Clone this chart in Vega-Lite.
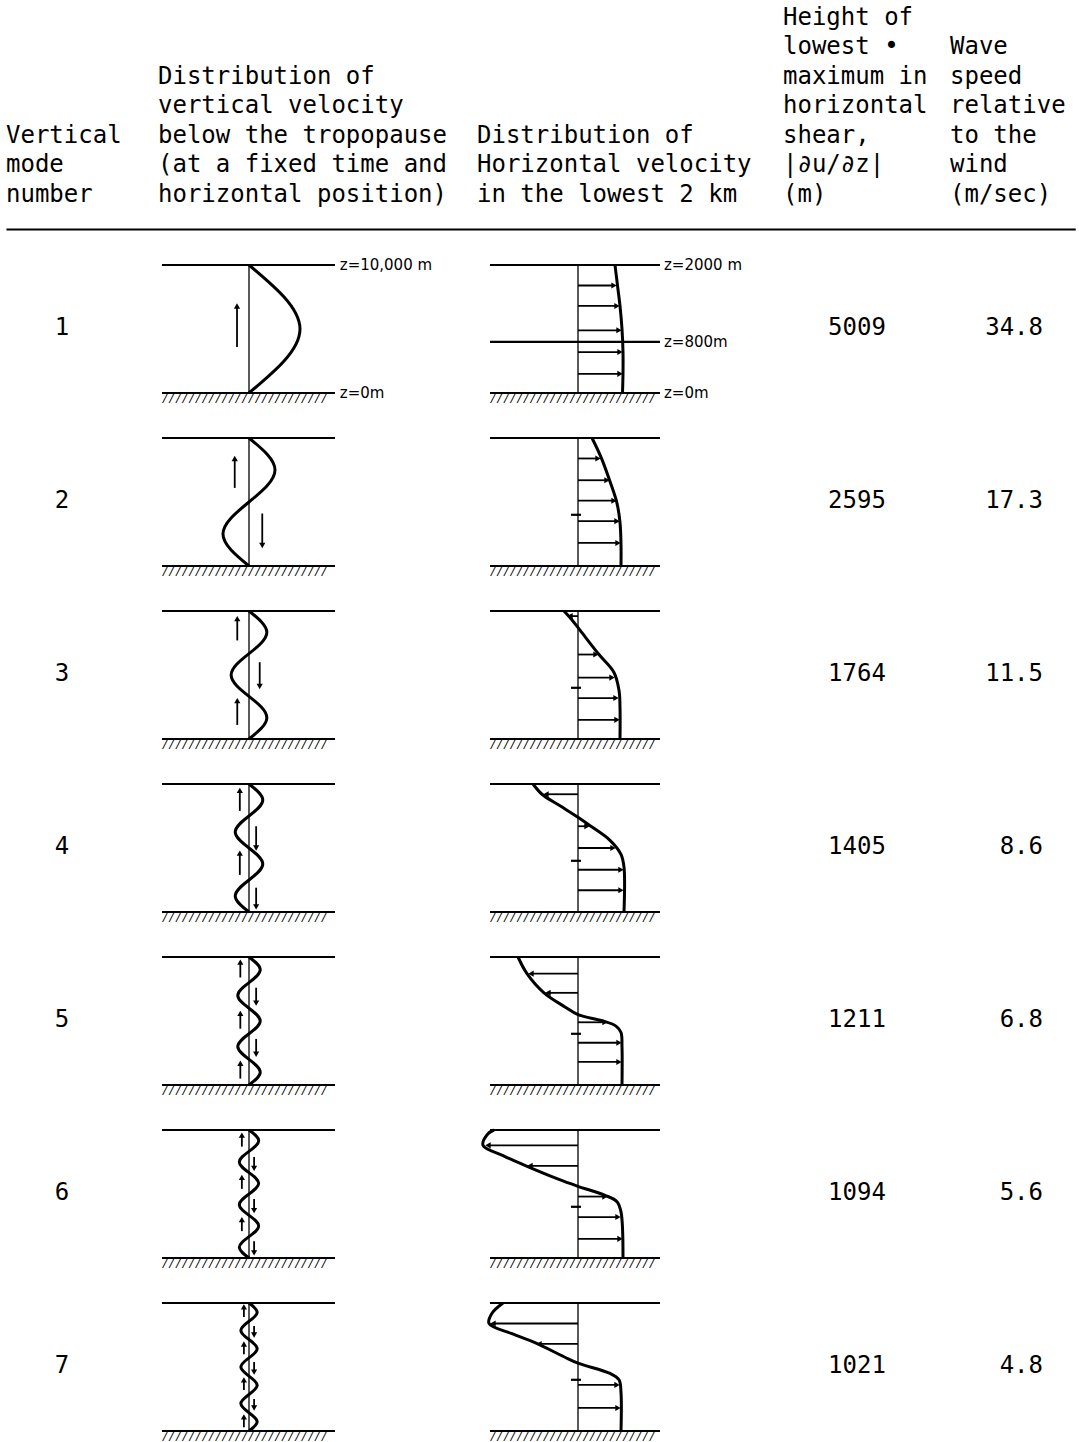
{
  "$schema": "https://vega.github.io/schema/vega-lite/v6.json",
  "padding": 0,
  "background": "white",
  "bounds": "flush",
  "spacing": 0,
  "config": {
    "view": {"stroke": null},
    "text": {"font": "DejaVu Sans Mono", "fontSize": 24, "color": "black"},
    "rule": {"color": "black"},
    "line": {"color": "black"},
    "facet": {"spacing": 0},
    "concat": {"spacing": 0}
  },
  "datasets": {
    "header": [
      {"kind": "text", "col": 1, "r": 2, "text": "Vertical"},
      {"kind": "text", "col": 1, "r": 1, "text": "mode"},
      {"kind": "text", "col": 1, "r": 0, "text": "number"},
      {"kind": "text", "col": 2, "r": 4, "text": "Distribution of"},
      {"kind": "text", "col": 2, "r": 3, "text": "vertical velocity"},
      {"kind": "text", "col": 2, "r": 2, "text": "below the tropopause"},
      {"kind": "text", "col": 2, "r": 1, "text": "(at a fixed time and"},
      {"kind": "text", "col": 2, "r": 0, "text": "horizontal position)"},
      {"kind": "text", "col": 3, "r": 2, "text": "Distribution of"},
      {"kind": "text", "col": 3, "r": 1, "text": "Horizontal velocity"},
      {"kind": "text", "col": 3, "r": 0, "text": "in the lowest 2 km"},
      {"kind": "text", "col": 4, "r": 6, "text": "Height of"},
      {"kind": "text", "col": 4, "r": 5, "text": "lowest •"},
      {"kind": "text", "col": 4, "r": 4, "text": "maximum in"},
      {"kind": "text", "col": 4, "r": 3, "text": "horizontal"},
      {"kind": "text", "col": 4, "r": 2, "text": "shear,"},
      {"kind": "text", "col": 4, "r": 1, "text": "|∂u/∂z|"},
      {"kind": "text", "col": 4, "r": 0, "text": "(m)"},
      {"kind": "text", "col": 5, "r": 5, "text": "Wave"},
      {"kind": "text", "col": 5, "r": 4, "text": "speed"},
      {"kind": "text", "col": 5, "r": 3, "text": "relative"},
      {"kind": "text", "col": 5, "r": 2, "text": "to the"},
      {"kind": "text", "col": 5, "r": 1, "text": "wind"},
      {"kind": "text", "col": 5, "r": 0, "text": "(m/sec)"},
      {"kind": "rule", "x1": 0.006, "x2": 0.997, "r": -1.17}
    ],
    "body": [
      {"kind": "line", "diag": "v", "mode": 1, "x1": -1.706, "x2": 1.686, "h": 1, "h2": 1},
      {"kind": "line", "diag": "v", "mode": 1, "x1": -1.706, "x2": 1.686, "h": 0, "h2": 0},
      {"kind": "axis", "diag": "v", "mode": 1, "x1": 0, "x2": 0, "h": 0, "h2": 1},
      {"kind": "line", "diag": "h", "mode": 1, "x1": -88, "x2": 82, "h": 1, "h2": 1},
      {"kind": "line", "diag": "h", "mode": 1, "x1": -88, "x2": 82, "h": 0, "h2": 0},
      {"kind": "line", "diag": "h", "mode": 1, "x1": -88, "x2": 82, "h": 0.4, "h2": 0.4},
      {"kind": "axis", "diag": "h", "mode": 1, "x1": 0, "x2": 0, "h": 0, "h2": 1},
      {"kind": "hatch", "diag": "v", "mode": 1, "x1": -1.706, "h": 0, "text": "/////////////////////////"},
      {"kind": "hatch", "diag": "h", "mode": 1, "x1": -88, "h": 0, "text": "/////////////////////////"},
      {"kind": "zlabel", "diag": "v", "mode": 1, "x1": 1.78, "h": 1, "text": "z=10,000 m"},
      {"kind": "zlabel", "diag": "v", "mode": 1, "x1": 1.78, "h": 0, "text": "z=0m"},
      {"kind": "zlabel", "diag": "h", "mode": 1, "x1": 86, "h": 1, "text": "z=2000 m"},
      {"kind": "zlabel", "diag": "h", "mode": 1, "x1": 86, "h": 0.4, "text": "z=800m"},
      {"kind": "zlabel", "diag": "h", "mode": 1, "x1": 86, "h": 0, "text": "z=0m"},
      {"kind": "vcurve", "mode": 1, "h": 0, "x1": 0},
      {"kind": "vcurve", "mode": 1, "h": 0.5, "x1": 1},
      {"kind": "vcurve", "mode": 1, "h": 1, "x1": 0},
      {"kind": "varrow", "mode": 1, "x1": -0.235, "h": 0.36, "h2": 0.68, "dir": "up"},
      {"kind": "hcurve", "mode": 1, "h": 1, "x1": 37},
      {"kind": "hcurve", "mode": 1, "h": 0.84, "x1": 39.5},
      {"kind": "hcurve", "mode": 1, "h": 0.68, "x1": 42},
      {"kind": "hcurve", "mode": 1, "h": 0.5, "x1": 44},
      {"kind": "hcurve", "mode": 1, "h": 0.32, "x1": 45},
      {"kind": "hcurve", "mode": 1, "h": 0.15, "x1": 45},
      {"kind": "hcurve", "mode": 1, "h": 0, "x1": 44.5},
      {"kind": "harrow", "mode": 1, "h": 0.84, "x1": 0, "x2": 36, "dir": "right"},
      {"kind": "harrow", "mode": 1, "h": 0.68, "x1": 0, "x2": 39, "dir": "right"},
      {"kind": "harrow", "mode": 1, "h": 0.49, "x1": 0, "x2": 41, "dir": "right"},
      {"kind": "harrow", "mode": 1, "h": 0.32, "x1": 0, "x2": 42, "dir": "right"},
      {"kind": "harrow", "mode": 1, "h": 0.15, "x1": 0, "x2": 42, "dir": "right"},
      {"kind": "num", "mode": 1, "col": 1, "h": 0.51, "text": "1"},
      {"kind": "num", "mode": 1, "col": 4, "h": 0.51, "text": "5009"},
      {"kind": "speed", "mode": 1, "col": 5, "h": 0.51, "text": "34.8"},

      {"kind": "line", "diag": "v", "mode": 2, "x1": -1.706, "x2": 1.686, "h": 1, "h2": 1},
      {"kind": "line", "diag": "v", "mode": 2, "x1": -1.706, "x2": 1.686, "h": 0, "h2": 0},
      {"kind": "axis", "diag": "v", "mode": 2, "x1": 0, "x2": 0, "h": 0, "h2": 1},
      {"kind": "line", "diag": "h", "mode": 2, "x1": -88, "x2": 82, "h": 1, "h2": 1},
      {"kind": "line", "diag": "h", "mode": 2, "x1": -88, "x2": 82, "h": 0, "h2": 0},
      {"kind": "line", "diag": "h", "mode": 2, "x1": -7, "x2": 3, "h": 0.4, "h2": 0.4},
      {"kind": "axis", "diag": "h", "mode": 2, "x1": 0, "x2": 0, "h": 0, "h2": 1},
      {"kind": "hatch", "diag": "v", "mode": 2, "x1": -1.706, "h": 0, "text": "/////////////////////////"},
      {"kind": "hatch", "diag": "h", "mode": 2, "x1": -88, "h": 0, "text": "/////////////////////////"},
      {"kind": "vcurve", "mode": 2, "h": 0, "x1": 0},
      {"kind": "vcurve", "mode": 2, "h": 0.25, "x1": -0.51},
      {"kind": "vcurve", "mode": 2, "h": 0.5, "x1": 0},
      {"kind": "vcurve", "mode": 2, "h": 0.75, "x1": 0.51},
      {"kind": "vcurve", "mode": 2, "h": 1, "x1": 0},
      {"kind": "varrow", "mode": 2, "x1": -0.28, "h": 0.61, "h2": 0.84, "dir": "up"},
      {"kind": "varrow", "mode": 2, "x1": 0.26, "h": 0.41, "h2": 0.16, "dir": "down"},
      {"kind": "hcurve", "mode": 2, "h": 1, "x1": 14},
      {"kind": "hcurve", "mode": 2, "h": 0.85, "x1": 23},
      {"kind": "hcurve", "mode": 2, "h": 0.66, "x1": 32},
      {"kind": "hcurve", "mode": 2, "h": 0.49, "x1": 39},
      {"kind": "hcurve", "mode": 2, "h": 0.34, "x1": 42},
      {"kind": "hcurve", "mode": 2, "h": 0.17, "x1": 43},
      {"kind": "hcurve", "mode": 2, "h": 0, "x1": 43},
      {"kind": "harrow", "mode": 2, "h": 0.84, "x1": 0, "x2": 20, "dir": "right"},
      {"kind": "harrow", "mode": 2, "h": 0.67, "x1": 0, "x2": 29, "dir": "right"},
      {"kind": "harrow", "mode": 2, "h": 0.51, "x1": 0, "x2": 36, "dir": "right"},
      {"kind": "harrow", "mode": 2, "h": 0.35, "x1": 0, "x2": 39, "dir": "right"},
      {"kind": "harrow", "mode": 2, "h": 0.18, "x1": 0, "x2": 40, "dir": "right"},
      {"kind": "num", "mode": 2, "col": 1, "h": 0.51, "text": "2"},
      {"kind": "num", "mode": 2, "col": 4, "h": 0.51, "text": "2595"},
      {"kind": "speed", "mode": 2, "col": 5, "h": 0.51, "text": "17.3"},

      {"kind": "line", "diag": "v", "mode": 3, "x1": -1.706, "x2": 1.686, "h": 1, "h2": 1},
      {"kind": "line", "diag": "v", "mode": 3, "x1": -1.706, "x2": 1.686, "h": 0, "h2": 0},
      {"kind": "axis", "diag": "v", "mode": 3, "x1": 0, "x2": 0, "h": 0, "h2": 1},
      {"kind": "line", "diag": "h", "mode": 3, "x1": -88, "x2": 82, "h": 1, "h2": 1},
      {"kind": "line", "diag": "h", "mode": 3, "x1": -88, "x2": 82, "h": 0, "h2": 0},
      {"kind": "line", "diag": "h", "mode": 3, "x1": -7, "x2": 3, "h": 0.4, "h2": 0.4},
      {"kind": "axis", "diag": "h", "mode": 3, "x1": 0, "x2": 0, "h": 0, "h2": 1},
      {"kind": "hatch", "diag": "v", "mode": 3, "x1": -1.706, "h": 0, "text": "/////////////////////////"},
      {"kind": "hatch", "diag": "h", "mode": 3, "x1": -88, "h": 0, "text": "/////////////////////////"},
      {"kind": "vcurve", "mode": 3, "h": 0, "x1": 0},
      {"kind": "vcurve", "mode": 3, "h": 0.1667, "x1": 0.35},
      {"kind": "vcurve", "mode": 3, "h": 0.3333, "x1": 0},
      {"kind": "vcurve", "mode": 3, "h": 0.5, "x1": -0.35},
      {"kind": "vcurve", "mode": 3, "h": 0.6667, "x1": 0},
      {"kind": "vcurve", "mode": 3, "h": 0.8333, "x1": 0.35},
      {"kind": "vcurve", "mode": 3, "h": 1, "x1": 0},
      {"kind": "varrow", "mode": 3, "x1": -0.23, "h": 0.77, "h2": 0.94, "dir": "up"},
      {"kind": "varrow", "mode": 3, "x1": -0.23, "h": 0.11, "h2": 0.3, "dir": "up"},
      {"kind": "varrow", "mode": 3, "x1": 0.21, "h": 0.6, "h2": 0.41, "dir": "down"},
      {"kind": "hcurve", "mode": 3, "h": 1, "x1": -14},
      {"kind": "hcurve", "mode": 3, "h": 0.93, "x1": -6},
      {"kind": "hcurve", "mode": 3, "h": 0.85, "x1": 2},
      {"kind": "hcurve", "mode": 3, "h": 0.66, "x1": 21},
      {"kind": "hcurve", "mode": 3, "h": 0.52, "x1": 36},
      {"kind": "hcurve", "mode": 3, "h": 0.38, "x1": 41},
      {"kind": "hcurve", "mode": 3, "h": 0.25, "x1": 42},
      {"kind": "hcurve", "mode": 3, "h": 0, "x1": 42},
      {"kind": "harrow", "mode": 3, "h": 0.96, "x1": 0, "x2": -8, "dir": "left"},
      {"kind": "harrow", "mode": 3, "h": 0.66, "x1": 0, "x2": 18, "dir": "right"},
      {"kind": "harrow", "mode": 3, "h": 0.48, "x1": 0, "x2": 34, "dir": "right"},
      {"kind": "harrow", "mode": 3, "h": 0.32, "x1": 0, "x2": 38, "dir": "right"},
      {"kind": "harrow", "mode": 3, "h": 0.15, "x1": 0, "x2": 39, "dir": "right"},
      {"kind": "num", "mode": 3, "col": 1, "h": 0.51, "text": "3"},
      {"kind": "num", "mode": 3, "col": 4, "h": 0.51, "text": "1764"},
      {"kind": "speed", "mode": 3, "col": 5, "h": 0.51, "text": "11.5"},

      {"kind": "line", "diag": "v", "mode": 4, "x1": -1.706, "x2": 1.686, "h": 1, "h2": 1},
      {"kind": "line", "diag": "v", "mode": 4, "x1": -1.706, "x2": 1.686, "h": 0, "h2": 0},
      {"kind": "axis", "diag": "v", "mode": 4, "x1": 0, "x2": 0, "h": 0, "h2": 1},
      {"kind": "line", "diag": "h", "mode": 4, "x1": -88, "x2": 82, "h": 1, "h2": 1},
      {"kind": "line", "diag": "h", "mode": 4, "x1": -88, "x2": 82, "h": 0, "h2": 0},
      {"kind": "line", "diag": "h", "mode": 4, "x1": -7, "x2": 3, "h": 0.4, "h2": 0.4},
      {"kind": "axis", "diag": "h", "mode": 4, "x1": 0, "x2": 0, "h": 0, "h2": 1},
      {"kind": "hatch", "diag": "v", "mode": 4, "x1": -1.706, "h": 0, "text": "/////////////////////////"},
      {"kind": "hatch", "diag": "h", "mode": 4, "x1": -88, "h": 0, "text": "/////////////////////////"},
      {"kind": "vcurve", "mode": 4, "h": 0, "x1": 0},
      {"kind": "vcurve", "mode": 4, "h": 0.125, "x1": -0.27},
      {"kind": "vcurve", "mode": 4, "h": 0.25, "x1": 0},
      {"kind": "vcurve", "mode": 4, "h": 0.375, "x1": 0.27},
      {"kind": "vcurve", "mode": 4, "h": 0.5, "x1": 0},
      {"kind": "vcurve", "mode": 4, "h": 0.625, "x1": -0.27},
      {"kind": "vcurve", "mode": 4, "h": 0.75, "x1": 0},
      {"kind": "vcurve", "mode": 4, "h": 0.875, "x1": 0.27},
      {"kind": "vcurve", "mode": 4, "h": 1, "x1": 0},
      {"kind": "varrow", "mode": 4, "x1": -0.18, "h": 0.79, "h2": 0.95, "dir": "up"},
      {"kind": "varrow", "mode": 4, "x1": -0.18, "h": 0.29, "h2": 0.46, "dir": "up"},
      {"kind": "varrow", "mode": 4, "x1": 0.14, "h": 0.67, "h2": 0.5, "dir": "down"},
      {"kind": "varrow", "mode": 4, "x1": 0.14, "h": 0.19, "h2": 0.04, "dir": "down"},
      {"kind": "hcurve", "mode": 4, "h": 1, "x1": -45},
      {"kind": "hcurve", "mode": 4, "h": 0.92, "x1": -36},
      {"kind": "hcurve", "mode": 4, "h": 0.83, "x1": -18},
      {"kind": "hcurve", "mode": 4, "h": 0.74, "x1": 0},
      {"kind": "hcurve", "mode": 4, "h": 0.68, "x1": 11},
      {"kind": "hcurve", "mode": 4, "h": 0.56, "x1": 32},
      {"kind": "hcurve", "mode": 4, "h": 0.45, "x1": 43},
      {"kind": "hcurve", "mode": 4, "h": 0.35, "x1": 46},
      {"kind": "hcurve", "mode": 4, "h": 0, "x1": 46},
      {"kind": "harrow", "mode": 4, "h": 0.92, "x1": 0, "x2": -32, "dir": "left"},
      {"kind": "harrow", "mode": 4, "h": 0.67, "x1": 0, "x2": 9, "dir": "right"},
      {"kind": "harrow", "mode": 4, "h": 0.5, "x1": 0, "x2": 35, "dir": "right"},
      {"kind": "harrow", "mode": 4, "h": 0.33, "x1": 0, "x2": 43, "dir": "right"},
      {"kind": "harrow", "mode": 4, "h": 0.17, "x1": 0, "x2": 43, "dir": "right"},
      {"kind": "num", "mode": 4, "col": 1, "h": 0.51, "text": "4"},
      {"kind": "num", "mode": 4, "col": 4, "h": 0.51, "text": "1405"},
      {"kind": "speed", "mode": 4, "col": 5, "h": 0.51, "text": "8.6"},

      {"kind": "line", "diag": "v", "mode": 5, "x1": -1.706, "x2": 1.686, "h": 1, "h2": 1},
      {"kind": "line", "diag": "v", "mode": 5, "x1": -1.706, "x2": 1.686, "h": 0, "h2": 0},
      {"kind": "axis", "diag": "v", "mode": 5, "x1": 0, "x2": 0, "h": 0, "h2": 1},
      {"kind": "line", "diag": "h", "mode": 5, "x1": -88, "x2": 82, "h": 1, "h2": 1},
      {"kind": "line", "diag": "h", "mode": 5, "x1": -88, "x2": 82, "h": 0, "h2": 0},
      {"kind": "line", "diag": "h", "mode": 5, "x1": -7, "x2": 3, "h": 0.4, "h2": 0.4},
      {"kind": "axis", "diag": "h", "mode": 5, "x1": 0, "x2": 0, "h": 0, "h2": 1},
      {"kind": "hatch", "diag": "v", "mode": 5, "x1": -1.706, "h": 0, "text": "/////////////////////////"},
      {"kind": "hatch", "diag": "h", "mode": 5, "x1": -88, "h": 0, "text": "/////////////////////////"},
      {"kind": "vcurve", "mode": 5, "h": 0, "x1": 0},
      {"kind": "vcurve", "mode": 5, "h": 0.1, "x1": 0.22},
      {"kind": "vcurve", "mode": 5, "h": 0.2, "x1": 0},
      {"kind": "vcurve", "mode": 5, "h": 0.3, "x1": -0.22},
      {"kind": "vcurve", "mode": 5, "h": 0.4, "x1": 0},
      {"kind": "vcurve", "mode": 5, "h": 0.5, "x1": 0.22},
      {"kind": "vcurve", "mode": 5, "h": 0.6, "x1": 0},
      {"kind": "vcurve", "mode": 5, "h": 0.7, "x1": -0.22},
      {"kind": "vcurve", "mode": 5, "h": 0.8, "x1": 0},
      {"kind": "vcurve", "mode": 5, "h": 0.9, "x1": 0.22},
      {"kind": "vcurve", "mode": 5, "h": 1, "x1": 0},
      {"kind": "varrow", "mode": 5, "x1": -0.17, "h": 0.84, "h2": 0.96, "dir": "up"},
      {"kind": "varrow", "mode": 5, "x1": -0.17, "h": 0.44, "h2": 0.56, "dir": "up"},
      {"kind": "varrow", "mode": 5, "x1": -0.17, "h": 0.05, "h2": 0.17, "dir": "up"},
      {"kind": "varrow", "mode": 5, "x1": 0.14, "h": 0.76, "h2": 0.64, "dir": "down"},
      {"kind": "varrow", "mode": 5, "x1": 0.14, "h": 0.36, "h2": 0.24, "dir": "down"},
      {"kind": "hcurve", "mode": 5, "h": 1, "x1": -60},
      {"kind": "hcurve", "mode": 5, "h": 0.87, "x1": -51},
      {"kind": "hcurve", "mode": 5, "h": 0.72, "x1": -34},
      {"kind": "hcurve", "mode": 5, "h": 0.61, "x1": -13},
      {"kind": "hcurve", "mode": 5, "h": 0.55, "x1": 0},
      {"kind": "hcurve", "mode": 5, "h": 0.5, "x1": 25},
      {"kind": "hcurve", "mode": 5, "h": 0.46, "x1": 38},
      {"kind": "hcurve", "mode": 5, "h": 0.41, "x1": 43},
      {"kind": "hcurve", "mode": 5, "h": 0.3, "x1": 44},
      {"kind": "hcurve", "mode": 5, "h": 0, "x1": 44},
      {"kind": "harrow", "mode": 5, "h": 0.87, "x1": 0, "x2": -47, "dir": "left"},
      {"kind": "harrow", "mode": 5, "h": 0.72, "x1": 0, "x2": -30, "dir": "left"},
      {"kind": "harrow", "mode": 5, "h": 0.49, "x1": 0, "x2": 27, "dir": "right"},
      {"kind": "harrow", "mode": 5, "h": 0.33, "x1": 0, "x2": 41, "dir": "right"},
      {"kind": "harrow", "mode": 5, "h": 0.18, "x1": 0, "x2": 41, "dir": "right"},
      {"kind": "num", "mode": 5, "col": 1, "h": 0.51, "text": "5"},
      {"kind": "num", "mode": 5, "col": 4, "h": 0.51, "text": "1211"},
      {"kind": "speed", "mode": 5, "col": 5, "h": 0.51, "text": "6.8"},

      {"kind": "line", "diag": "v", "mode": 6, "x1": -1.706, "x2": 1.686, "h": 1, "h2": 1},
      {"kind": "line", "diag": "v", "mode": 6, "x1": -1.706, "x2": 1.686, "h": 0, "h2": 0},
      {"kind": "axis", "diag": "v", "mode": 6, "x1": 0, "x2": 0, "h": 0, "h2": 1},
      {"kind": "line", "diag": "h", "mode": 6, "x1": -88, "x2": 82, "h": 1, "h2": 1},
      {"kind": "line", "diag": "h", "mode": 6, "x1": -88, "x2": 82, "h": 0, "h2": 0},
      {"kind": "line", "diag": "h", "mode": 6, "x1": -7, "x2": 3, "h": 0.4, "h2": 0.4},
      {"kind": "axis", "diag": "h", "mode": 6, "x1": 0, "x2": 0, "h": 0, "h2": 1},
      {"kind": "hatch", "diag": "v", "mode": 6, "x1": -1.706, "h": 0, "text": "/////////////////////////"},
      {"kind": "hatch", "diag": "h", "mode": 6, "x1": -88, "h": 0, "text": "/////////////////////////"},
      {"kind": "vcurve", "mode": 6, "h": 0, "x1": 0},
      {"kind": "vcurve", "mode": 6, "h": 0.0833, "x1": -0.19},
      {"kind": "vcurve", "mode": 6, "h": 0.1667, "x1": 0},
      {"kind": "vcurve", "mode": 6, "h": 0.25, "x1": 0.19},
      {"kind": "vcurve", "mode": 6, "h": 0.3333, "x1": 0},
      {"kind": "vcurve", "mode": 6, "h": 0.4167, "x1": -0.19},
      {"kind": "vcurve", "mode": 6, "h": 0.5, "x1": 0},
      {"kind": "vcurve", "mode": 6, "h": 0.5833, "x1": 0.19},
      {"kind": "vcurve", "mode": 6, "h": 0.6667, "x1": 0},
      {"kind": "vcurve", "mode": 6, "h": 0.75, "x1": -0.19},
      {"kind": "vcurve", "mode": 6, "h": 0.8333, "x1": 0},
      {"kind": "vcurve", "mode": 6, "h": 0.9167, "x1": 0.19},
      {"kind": "vcurve", "mode": 6, "h": 1, "x1": 0},
      {"kind": "varrow", "mode": 6, "x1": -0.14, "h": 0.87, "h2": 0.96, "dir": "up"},
      {"kind": "varrow", "mode": 6, "x1": -0.14, "h": 0.54, "h2": 0.63, "dir": "up"},
      {"kind": "varrow", "mode": 6, "x1": -0.14, "h": 0.21, "h2": 0.3, "dir": "up"},
      {"kind": "varrow", "mode": 6, "x1": 0.1, "h": 0.79, "h2": 0.7, "dir": "down"},
      {"kind": "varrow", "mode": 6, "x1": 0.1, "h": 0.46, "h2": 0.37, "dir": "down"},
      {"kind": "varrow", "mode": 6, "x1": 0.1, "h": 0.13, "h2": 0.04, "dir": "down"},
      {"kind": "hcurve", "mode": 6, "h": 1, "x1": -84},
      {"kind": "hcurve", "mode": 6, "h": 0.97, "x1": -90},
      {"kind": "hcurve", "mode": 6, "h": 0.88, "x1": -95},
      {"kind": "hcurve", "mode": 6, "h": 0.8, "x1": -75},
      {"kind": "hcurve", "mode": 6, "h": 0.72, "x1": -52},
      {"kind": "hcurve", "mode": 6, "h": 0.62, "x1": -21},
      {"kind": "hcurve", "mode": 6, "h": 0.56, "x1": 0},
      {"kind": "hcurve", "mode": 6, "h": 0.49, "x1": 27},
      {"kind": "hcurve", "mode": 6, "h": 0.44, "x1": 39},
      {"kind": "hcurve", "mode": 6, "h": 0.36, "x1": 43},
      {"kind": "hcurve", "mode": 6, "h": 0, "x1": 45},
      {"kind": "harrow", "mode": 6, "h": 0.88, "x1": 0, "x2": -90, "dir": "left"},
      {"kind": "harrow", "mode": 6, "h": 0.72, "x1": 0, "x2": -48, "dir": "left"},
      {"kind": "harrow", "mode": 6, "h": 0.48, "x1": 0, "x2": 27, "dir": "right"},
      {"kind": "harrow", "mode": 6, "h": 0.32, "x1": 0, "x2": 40, "dir": "right"},
      {"kind": "harrow", "mode": 6, "h": 0.15, "x1": 0, "x2": 42, "dir": "right"},
      {"kind": "num", "mode": 6, "col": 1, "h": 0.51, "text": "6"},
      {"kind": "num", "mode": 6, "col": 4, "h": 0.51, "text": "1094"},
      {"kind": "speed", "mode": 6, "col": 5, "h": 0.51, "text": "5.6"},

      {"kind": "line", "diag": "v", "mode": 7, "x1": -1.706, "x2": 1.686, "h": 1, "h2": 1},
      {"kind": "line", "diag": "v", "mode": 7, "x1": -1.706, "x2": 1.686, "h": 0, "h2": 0},
      {"kind": "axis", "diag": "v", "mode": 7, "x1": 0, "x2": 0, "h": 0, "h2": 1},
      {"kind": "line", "diag": "h", "mode": 7, "x1": -88, "x2": 82, "h": 1, "h2": 1},
      {"kind": "line", "diag": "h", "mode": 7, "x1": -88, "x2": 82, "h": 0, "h2": 0},
      {"kind": "line", "diag": "h", "mode": 7, "x1": -7, "x2": 3, "h": 0.4, "h2": 0.4},
      {"kind": "axis", "diag": "h", "mode": 7, "x1": 0, "x2": 0, "h": 0, "h2": 1},
      {"kind": "hatch", "diag": "v", "mode": 7, "x1": -1.706, "h": 0, "text": "/////////////////////////"},
      {"kind": "hatch", "diag": "h", "mode": 7, "x1": -88, "h": 0, "text": "/////////////////////////"},
      {"kind": "vcurve", "mode": 7, "h": 0, "x1": 0},
      {"kind": "vcurve", "mode": 7, "h": 0.0714, "x1": 0.16},
      {"kind": "vcurve", "mode": 7, "h": 0.1429, "x1": 0},
      {"kind": "vcurve", "mode": 7, "h": 0.2143, "x1": -0.16},
      {"kind": "vcurve", "mode": 7, "h": 0.2857, "x1": 0},
      {"kind": "vcurve", "mode": 7, "h": 0.3571, "x1": 0.16},
      {"kind": "vcurve", "mode": 7, "h": 0.4286, "x1": 0},
      {"kind": "vcurve", "mode": 7, "h": 0.5, "x1": -0.16},
      {"kind": "vcurve", "mode": 7, "h": 0.5714, "x1": 0},
      {"kind": "vcurve", "mode": 7, "h": 0.6429, "x1": 0.16},
      {"kind": "vcurve", "mode": 7, "h": 0.7143, "x1": 0},
      {"kind": "vcurve", "mode": 7, "h": 0.7857, "x1": -0.16},
      {"kind": "vcurve", "mode": 7, "h": 0.8571, "x1": 0},
      {"kind": "vcurve", "mode": 7, "h": 0.9286, "x1": 0.16},
      {"kind": "vcurve", "mode": 7, "h": 1, "x1": 0},
      {"kind": "varrow", "mode": 7, "x1": -0.1, "h": 0.89, "h2": 0.97, "dir": "up"},
      {"kind": "varrow", "mode": 7, "x1": -0.1, "h": 0.6, "h2": 0.68, "dir": "up"},
      {"kind": "varrow", "mode": 7, "x1": -0.1, "h": 0.32, "h2": 0.4, "dir": "up"},
      {"kind": "varrow", "mode": 7, "x1": -0.1, "h": 0.03, "h2": 0.11, "dir": "up"},
      {"kind": "varrow", "mode": 7, "x1": 0.1, "h": 0.82, "h2": 0.75, "dir": "down"},
      {"kind": "varrow", "mode": 7, "x1": 0.1, "h": 0.54, "h2": 0.46, "dir": "down"},
      {"kind": "varrow", "mode": 7, "x1": 0.1, "h": 0.25, "h2": 0.18, "dir": "down"},
      {"kind": "hcurve", "mode": 7, "h": 1, "x1": -75},
      {"kind": "hcurve", "mode": 7, "h": 0.92, "x1": -86},
      {"kind": "hcurve", "mode": 7, "h": 0.84, "x1": -89},
      {"kind": "hcurve", "mode": 7, "h": 0.76, "x1": -66},
      {"kind": "hcurve", "mode": 7, "h": 0.69, "x1": -43},
      {"kind": "hcurve", "mode": 7, "h": 0.58, "x1": -14},
      {"kind": "hcurve", "mode": 7, "h": 0.53, "x1": 0},
      {"kind": "hcurve", "mode": 7, "h": 0.45, "x1": 32},
      {"kind": "hcurve", "mode": 7, "h": 0.4, "x1": 41},
      {"kind": "hcurve", "mode": 7, "h": 0.3, "x1": 43},
      {"kind": "hcurve", "mode": 7, "h": 0, "x1": 43},
      {"kind": "harrow", "mode": 7, "h": 0.84, "x1": 0, "x2": -85, "dir": "left"},
      {"kind": "harrow", "mode": 7, "h": 0.68, "x1": 0, "x2": -39, "dir": "left"},
      {"kind": "harrow", "mode": 7, "h": 0.36, "x1": 0, "x2": 39, "dir": "right"},
      {"kind": "harrow", "mode": 7, "h": 0.18, "x1": 0, "x2": 40, "dir": "right"},
      {"kind": "num", "mode": 7, "col": 1, "h": 0.51, "text": "7"},
      {"kind": "num", "mode": 7, "col": 4, "h": 0.51, "text": "1021"},
      {"kind": "speed", "mode": 7, "col": 5, "h": 0.51, "text": "4.8"}
    ]
  },
  "vconcat": [
    {
      "width": 1079,
      "height": 245,
      "data": {"name": "header"},
      "layer": [
        {
          "transform": [{"filter": "datum.kind === 'text'"}],
          "mark": {"type": "text", "align": "left", "baseline": "middle"},
          "encoding": {
            "x": {"field": "col", "type": "quantitative", "scale": {"domain": [1, 2, 3, 4, 5], "range": [6, 158, 477, 783, 950], "nice": false, "zero": false}, "axis": null},
            "y": {"field": "r", "type": "quantitative", "scale": {"domain": [-1.695, 6.61], "nice": false, "zero": false}, "axis": null},
            "text": {"field": "text"}
          }
        },
        {
          "transform": [{"filter": "datum.kind === 'rule'"}],
          "mark": {"type": "rule", "strokeWidth": 2},
          "encoding": {
            "x": {"field": "x1", "type": "quantitative", "scale": {"domain": [0, 1], "nice": false, "zero": false}, "axis": null},
            "x2": {"field": "x2"},
            "y": {"field": "r", "type": "quantitative", "scale": {"domain": [-1.695, 6.61], "nice": false, "zero": false}, "axis": null}
          }
        }
      ],
      "resolve": {"scale": {"x": "independent"}}
    },
    {
      "data": {"name": "body"},
      "bounds": "flush",
      "spacing": 0,
      "facet": {"row": {"field": "mode", "type": "ordinal", "header": null}},
      "spec": {
        "width": 1079,
        "height": 172.5,
        "layer": [
          {
            "transform": [{"filter": "datum.diag === 'v' && (datum.kind === 'line' || datum.kind === 'axis')"}],
            "mark": {"type": "rule"},
            "encoding": {
              "x": {"field": "x1", "type": "quantitative", "scale": {"domain": [-1, 1], "range": [198, 300], "nice": false, "zero": false}, "axis": null},
              "x2": {"field": "x2"},
              "y": {"field": "h", "type": "quantitative", "scale": {"domain": [-0.1914, 1.15625], "nice": false, "zero": false}, "axis": null},
              "y2": {"field": "h2"},
              "strokeWidth": {"field": "kind", "type": "nominal", "scale": {"domain": ["line", "axis"], "range": [2.2, 1.3]}, "legend": null}
            }
          },
          {
            "transform": [{"filter": "datum.kind === 'vcurve'"}],
            "mark": {"type": "line", "interpolate": "natural", "strokeWidth": 3},
            "encoding": {
              "x": {"field": "x1", "type": "quantitative", "scale": {"domain": [-1, 1], "range": [198, 300], "nice": false, "zero": false}, "axis": null},
              "y": {"field": "h", "type": "quantitative", "scale": {"domain": [-0.1914, 1.15625], "nice": false, "zero": false}, "axis": null},
              "order": {"field": "h", "type": "quantitative"}
            }
          },
          {
            "transform": [{"filter": "datum.kind === 'varrow'"}],
            "mark": {"type": "rule", "strokeWidth": 1.8},
            "encoding": {
              "x": {"field": "x1", "type": "quantitative", "scale": {"domain": [-1, 1], "range": [198, 300], "nice": false, "zero": false}, "axis": null},
              "y": {"field": "h", "type": "quantitative", "scale": {"domain": [-0.1914, 1.15625], "nice": false, "zero": false}, "axis": null},
              "y2": {"field": "h2"}
            }
          },
          {
            "transform": [{"filter": "datum.kind === 'varrow'"}],
            "mark": {"type": "point", "filled": true, "opacity": 1, "size": 38, "color": "black"},
            "encoding": {
              "x": {"field": "x1", "type": "quantitative", "scale": {"domain": [-1, 1], "range": [198, 300], "nice": false, "zero": false}, "axis": null},
              "y": {"field": "h2", "type": "quantitative", "scale": {"domain": [-0.1914, 1.15625], "nice": false, "zero": false}, "axis": null},
              "shape": {"field": "dir", "type": "nominal", "scale": {"domain": ["up", "down", "left", "right"], "range": ["triangle-up", "triangle-down", "triangle-left", "triangle-right"]}, "legend": null}
            }
          },
          {
            "transform": [{"filter": "datum.kind === 'hatch' && datum.diag === 'v'"}],
            "mark": {"type": "text", "align": "left", "baseline": "top", "fontSize": 11, "fontStyle": "italic", "dy": 0},
            "encoding": {
              "x": {"field": "x1", "type": "quantitative", "scale": {"domain": [-1, 1], "range": [198, 300], "nice": false, "zero": false}, "axis": null},
              "y": {"field": "h", "type": "quantitative", "scale": {"domain": [-0.1914, 1.15625], "nice": false, "zero": false}, "axis": null},
              "text": {"field": "text"}
            }
          },
          {
            "transform": [{"filter": "datum.kind === 'zlabel' && datum.diag === 'v'"}],
            "mark": {"type": "text", "align": "left", "baseline": "middle", "font": "DejaVu Sans", "fontSize": 15},
            "encoding": {
              "x": {"field": "x1", "type": "quantitative", "scale": {"domain": [-1, 1], "range": [198, 300], "nice": false, "zero": false}, "axis": null},
              "y": {"field": "h", "type": "quantitative", "scale": {"domain": [-0.1914, 1.15625], "nice": false, "zero": false}, "axis": null},
              "text": {"field": "text"}
            }
          },
          {
            "transform": [{"filter": "datum.diag === 'h' && (datum.kind === 'line' || datum.kind === 'axis')"}],
            "mark": {"type": "rule"},
            "encoding": {
              "x": {"field": "x1", "type": "quantitative", "scale": {"domain": [-100, 100], "range": [478, 678], "nice": false, "zero": false}, "axis": null},
              "x2": {"field": "x2"},
              "y": {"field": "h", "type": "quantitative", "scale": {"domain": [-0.1914, 1.15625], "nice": false, "zero": false}, "axis": null},
              "y2": {"field": "h2"},
              "strokeWidth": {"field": "kind", "type": "nominal", "scale": {"domain": ["line", "axis"], "range": [2.2, 1.3]}, "legend": null}
            }
          },
          {
            "transform": [{"filter": "datum.kind === 'hcurve'"}],
            "mark": {"type": "line", "interpolate": "catmull-rom", "strokeWidth": 3},
            "encoding": {
              "x": {"field": "x1", "type": "quantitative", "scale": {"domain": [-100, 100], "range": [478, 678], "nice": false, "zero": false}, "axis": null},
              "y": {"field": "h", "type": "quantitative", "scale": {"domain": [-0.1914, 1.15625], "nice": false, "zero": false}, "axis": null},
              "order": {"field": "h", "type": "quantitative"}
            }
          },
          {
            "transform": [{"filter": "datum.kind === 'harrow'"}],
            "mark": {"type": "rule", "strokeWidth": 1.8},
            "encoding": {
              "x": {"field": "x1", "type": "quantitative", "scale": {"domain": [-100, 100], "range": [478, 678], "nice": false, "zero": false}, "axis": null},
              "x2": {"field": "x2"},
              "y": {"field": "h", "type": "quantitative", "scale": {"domain": [-0.1914, 1.15625], "nice": false, "zero": false}, "axis": null}
            }
          },
          {
            "transform": [{"filter": "datum.kind === 'harrow'"}],
            "mark": {"type": "point", "filled": true, "opacity": 1, "size": 38, "color": "black"},
            "encoding": {
              "x": {"field": "x2", "type": "quantitative", "scale": {"domain": [-100, 100], "range": [478, 678], "nice": false, "zero": false}, "axis": null},
              "y": {"field": "h", "type": "quantitative", "scale": {"domain": [-0.1914, 1.15625], "nice": false, "zero": false}, "axis": null},
              "shape": {"field": "dir", "type": "nominal", "scale": {"domain": ["up", "down", "left", "right"], "range": ["triangle-up", "triangle-down", "triangle-left", "triangle-right"]}, "legend": null}
            }
          },
          {
            "transform": [{"filter": "datum.kind === 'hatch' && datum.diag === 'h'"}],
            "mark": {"type": "text", "align": "left", "baseline": "top", "fontSize": 11, "fontStyle": "italic", "dy": 0},
            "encoding": {
              "x": {"field": "x1", "type": "quantitative", "scale": {"domain": [-100, 100], "range": [478, 678], "nice": false, "zero": false}, "axis": null},
              "y": {"field": "h", "type": "quantitative", "scale": {"domain": [-0.1914, 1.15625], "nice": false, "zero": false}, "axis": null},
              "text": {"field": "text"}
            }
          },
          {
            "transform": [{"filter": "datum.kind === 'zlabel' && datum.diag === 'h'"}],
            "mark": {"type": "text", "align": "left", "baseline": "middle", "font": "DejaVu Sans", "fontSize": 15},
            "encoding": {
              "x": {"field": "x1", "type": "quantitative", "scale": {"domain": [-100, 100], "range": [478, 678], "nice": false, "zero": false}, "axis": null},
              "y": {"field": "h", "type": "quantitative", "scale": {"domain": [-0.1914, 1.15625], "nice": false, "zero": false}, "axis": null},
              "text": {"field": "text"}
            }
          },
          {
            "transform": [{"filter": "datum.kind === 'num'"}],
            "mark": {"type": "text", "align": "center", "baseline": "middle"},
            "encoding": {
              "x": {"field": "col", "type": "quantitative", "scale": {"domain": [1, 4, 5], "range": [62, 857, 1043], "nice": false, "zero": false}, "axis": null},
              "y": {"field": "h", "type": "quantitative", "scale": {"domain": [-0.1914, 1.15625], "nice": false, "zero": false}, "axis": null},
              "text": {"field": "text"}
            }
          },
          {
            "transform": [{"filter": "datum.kind === 'speed'"}],
            "mark": {"type": "text", "align": "right", "baseline": "middle"},
            "encoding": {
              "x": {"field": "col", "type": "quantitative", "scale": {"domain": [1, 4, 5], "range": [62, 857, 1043], "nice": false, "zero": false}, "axis": null},
              "y": {"field": "h", "type": "quantitative", "scale": {"domain": [-0.1914, 1.15625], "nice": false, "zero": false}, "axis": null},
              "text": {"field": "text"}
            }
          }
        ],
        "resolve": {"scale": {"x": "independent"}}
      }
    }
  ]
}
